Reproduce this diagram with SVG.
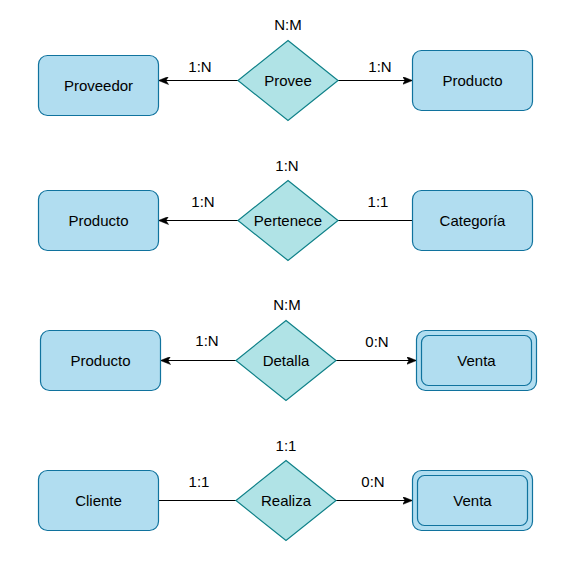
<svg xmlns="http://www.w3.org/2000/svg" width="579" height="577" viewBox="0 0 579 577">
<defs>
<marker id="arr" viewBox="0 0 10 8" refX="9.5" refY="4" markerWidth="10" markerHeight="8" markerUnits="userSpaceOnUse" orient="auto">
<path d="M0,0 L10,4 L0,8 L2.5,4 Z" fill="#000" stroke="#000" stroke-width="0.5"/>
</marker>
</defs>
<style>
.ent{fill:#b1ddf0;stroke:#10739e;stroke-width:1.2}
.rel{fill:#b0e3e6;stroke:#0e8088;stroke-width:1.2}
.t{font-family:"Liberation Sans",Arial,sans-serif;font-size:15px;fill:#000;text-anchor:middle}
.c{stroke:#000;stroke-width:1.2;fill:none}
</style>
<rect width="579" height="577" fill="#fff"/>
<g id="connectors">
<line class="c" x1="238" y1="80.5" x2="159" y2="80.5" marker-end="url(#arr)"/>
<line class="c" x1="338" y1="80.5" x2="412" y2="80.5" marker-end="url(#arr)"/>
<line class="c" x1="238" y1="220.5" x2="159" y2="220.5" marker-end="url(#arr)"/>
<line class="c" x1="338" y1="220.5" x2="412" y2="220.5"/>
<line class="c" x1="236" y1="360.5" x2="161" y2="360.5" marker-end="url(#arr)"/>
<line class="c" x1="336" y1="360.5" x2="416" y2="360.5" marker-end="url(#arr)"/>
<line class="c" x1="158" y1="500.5" x2="236" y2="500.5"/>
<line class="c" x1="336" y1="500.5" x2="412" y2="500.5" marker-end="url(#arr)"/>
<text class="t" x="200" y="72">1:N</text>
<text class="t" x="380" y="72">1:N</text>
<text class="t" x="203" y="207">1:N</text>
<text class="t" x="378" y="207">1:1</text>
<text class="t" x="207" y="346">1:N</text>
<text class="t" x="377" y="347">0:N</text>
<text class="t" x="199" y="487">1:1</text>
<text class="t" x="373" y="487">0:N</text>
</g>
<g id="proveedor"><rect class="ent" x="38.5" y="55.5" width="120" height="60" rx="9"/><text class="t" x="98.5" y="91">Proveedor</text></g>
<g id="provee"><polygon class="rel" points="288,40.5 338,80.5 288,120.5 238,80.5"/><text class="t" x="288" y="86">Provee</text><text class="t" x="288" y="30">N:M</text></g>
<g id="producto1"><rect class="ent" x="412.5" y="50.5" width="120" height="60" rx="9"/><text class="t" x="472.5" y="86">Producto</text></g>

<g id="producto2"><rect class="ent" x="38.5" y="190.5" width="120" height="60" rx="9"/><text class="t" x="98.5" y="226">Producto</text></g>
<g id="pertenece"><polygon class="rel" points="288,180.5 338,220.5 288,260.5 238,220.5"/><text class="t" x="288" y="226">Pertenece</text><text class="t" x="287" y="171">1:N</text></g>
<g id="categoria"><rect class="ent" x="412.5" y="190.5" width="120" height="60" rx="9"/><text class="t" x="472.5" y="226">Categoría</text></g>

<g id="producto3"><rect class="ent" x="40.5" y="330.5" width="120" height="60" rx="9"/><text class="t" x="100.5" y="366">Producto</text></g>
<g id="detalla"><polygon class="rel" points="286,320.5 336,360.5 286,400.5 236,360.5"/><text class="t" x="286" y="366">Detalla</text><text class="t" x="287" y="310">N:M</text></g>
<g id="venta1"><rect class="ent" x="416.5" y="330.5" width="120" height="60" rx="9"/><rect class="ent" x="421.5" y="335.5" width="110" height="50" rx="7"/><text class="t" x="476.5" y="366">Venta</text></g>

<g id="cliente"><rect class="ent" x="38.5" y="470.5" width="120" height="60" rx="9"/><text class="t" x="98.5" y="506">Cliente</text></g>
<g id="realiza"><polygon class="rel" points="286,460.5 336,500.5 286,540.5 236,500.5"/><text class="t" x="286" y="506">Realiza</text><text class="t" x="286" y="451">1:1</text></g>
<g id="venta2"><rect class="ent" x="412.5" y="470.5" width="120" height="60" rx="9"/><rect class="ent" x="417.5" y="475.5" width="110" height="50" rx="7"/><text class="t" x="472.5" y="506">Venta</text></g>
</svg>
